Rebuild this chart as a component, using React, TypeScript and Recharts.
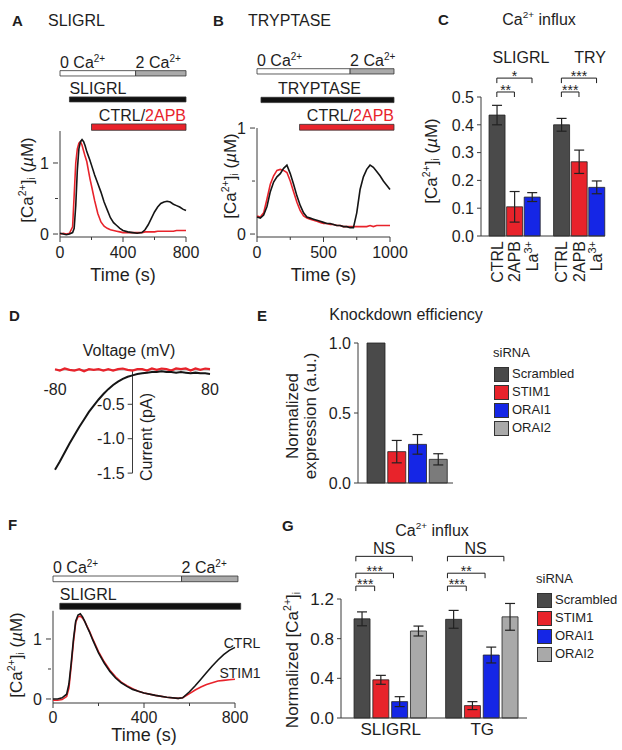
import React from "react";
import {
  LineChart,
  Line,
  BarChart,
  Bar,
  Cell,
  XAxis,
  YAxis,
  ReferenceArea,
  ReferenceLine,
  ReferenceDot,
  ErrorBar,
} from "recharts";

const FONT = '"Liberation Sans", Arial, Helvetica, sans-serif';
const INK = "#1e1e1e";
const AXIS = "#3a3a3a";
const RED = "#e8232b";
const BLUE = "#1526e6";
const DARK = "#4a4a4a";

// ---- A: SLIGRL, [Ca2+]i traces (s, uM)
const timeA = [0, 20, 40, 60, 80, 90, 100, 110, 120, 130, 140, 150, 160, 170, 180, 190, 200, 220, 240, 260, 280, 300, 320, 340, 360, 380, 400, 430, 460, 490, 520, 540, 560, 580, 600, 620, 640, 660, 680, 700, 720, 740, 760, 780, 800];
const ctrlA = [0.01, 0, -0.01, 0, 0.02, 0.08, 0.4, 0.9, 1.2, 1.3, 1.33, 1.3, 1.24, 1.16, 1.1, 1.04, 0.97, 0.83, 0.71, 0.59, 0.45, 0.34, 0.23, 0.16, 0.12, 0.08, 0.05, 0.03, 0.02, 0.01, 0.02, 0.06, 0.13, 0.22, 0.31, 0.38, 0.43, 0.45, 0.46, 0.45, 0.42, 0.4, 0.38, 0.35, 0.33];
const apbA = [0, 0.01, 0, 0.01, 0.1, 0.55, 1.0, 1.2, 1.28, 1.3, 1.25, 1.17, 1.09, 1.02, 0.9, 0.78, 0.68, 0.47, 0.29, 0.17, 0.11, 0.08, 0.06, 0.05, 0.04, 0.03, 0.02, 0.02, 0.02, 0.02, 0.02, 0.03, 0.03, 0.03, 0.03, 0.04, 0.04, 0.04, 0.04, 0.04, 0.04, 0.05, 0.05, 0.05, 0.05];
const bathA = [0, 480, 800];
const agonistA = [60, 800];
const blockerA = [200, 800];

// ---- B: TRYPTASE traces
const timeB = [0, 25, 50, 75, 100, 125, 150, 175, 200, 225, 250, 275, 300, 325, 350, 375, 400, 425, 450, 475, 500, 525, 550, 575, 600, 625, 650, 675, 700, 725, 750, 775, 800, 825, 850, 875, 900, 925, 950, 975, 1000];
const ctrlB = [0.16, 0.15, 0.18, 0.26, 0.4, 0.49, 0.54, 0.57, 0.62, 0.65, 0.57, 0.47, 0.36, 0.27, 0.2, 0.16, 0.15, 0.14, 0.13, 0.12, 0.11, 0.1, 0.1, 0.09, 0.08, 0.08, 0.07, 0.07, 0.06, 0.06, 0.2, 0.42, 0.54, 0.61, 0.65, 0.63, 0.59, 0.55, 0.5, 0.46, 0.42];
const apbB = [0.17, 0.16, 0.2, 0.33, 0.47, 0.55, 0.6, 0.61, 0.6, 0.58, 0.5, 0.4, 0.3, 0.22, 0.17, 0.15, 0.14, 0.13, 0.12, 0.11, 0.1, 0.1, 0.09, 0.09, 0.08, 0.08, 0.07, 0.07, 0.07, 0.07, 0.07, 0.07, 0.07, 0.07, 0.08, 0.07, 0.08, 0.08, 0.08, 0.08, 0.08];
const bathB = [0, 700, 1030];
const agonistB = [30, 1030];
const blockerB = [320, 1030];

// ---- C: Ca2+ influx
const influxGroups = ["SLIGRL", "TRY"];
const influxConds = ["CTRL", "2APB", "La3+"];
const influxColors = [DARK, RED, BLUE];
const influxMean = [
  [0.435, 0.105, 0.14],
  [0.4, 0.267, 0.175],
];
const influxErr = [
  [0.035, 0.055, 0.016],
  [0.023, 0.042, 0.023],
];
const influxSig = [
  { group: 0, to: 2, label: "*" },
  { group: 0, to: 1, label: "**" },
  { group: 1, to: 2, label: "***" },
  { group: 1, to: 1, label: "***" },
];

// ---- D: I-V
const voltD = [-80, -75, -70, -65, -60, -55, -50, -45, -40, -35, -30, -25, -20, -15, -10, -5, 0, 5, 10, 15, 20, 25, 30, 35, 40, 45, 50, 55, 60, 65, 70, 75, 80];
const currCtrlD = [-1.45, -1.33, -1.2, -1.07, -0.95, -0.83, -0.72, -0.61, -0.52, -0.43, -0.35, -0.28, -0.22, -0.17, -0.13, -0.1, -0.08, -0.06, -0.05, -0.04, -0.03, -0.03, -0.02, -0.03, -0.03, -0.04, -0.03, -0.04, -0.05, -0.04, -0.05, -0.05, -0.06];
const currRedD = [0.01, -0.01, 0.02, 0, -0.01, 0.01, -0.02, 0.01, 0, 0.01, -0.01, 0.01, -0.01, 0.01, 0.02, 0, -0.01, 0.01, 0.01, -0.01, 0.02, 0, 0.02, 0.01, -0.01, 0.02, 0.01, 0.02, -0.01, 0.02, 0, 0.02, 0.01];

// ---- E: knockdown efficiency
const siRNA = ["Scrambled", "STIM1", "ORAI1", "ORAI2"];
const siColors = [DARK, RED, BLUE, "#a9a9a9"];
const knockColors = [DARK, RED, BLUE, "#7b7b7b"];
const knockMean = [1.0, 0.224, 0.276, 0.169];
const knockErr = [0, 0.08, 0.07, 0.04];

// ---- F: SLIGRL, CTRL vs STIM1 siRNA
const timeF = [0, 20, 40, 60, 70, 80, 90, 100, 110, 120, 130, 140, 150, 160, 175, 200, 225, 250, 275, 300, 325, 350, 375, 400, 450, 500, 550, 570, 600, 625, 650, 675, 700, 725, 750, 775, 800];
const ctrlF = [0, 0, 0.02, 0.08, 0.25, 0.6, 1.0, 1.3, 1.4, 1.42, 1.37, 1.29, 1.2, 1.12, 0.98, 0.77, 0.6, 0.46, 0.35, 0.27, 0.21, 0.16, 0.13, 0.1, 0.06, 0.03, 0.01, 0.02, 0.12, 0.22, 0.33, 0.44, 0.55, 0.65, 0.74, 0.81, 0.86];
const stimF = [-0.02, -0.02, -0.01, 0.04, 0.18, 0.55, 0.95, 1.28, 1.37, 1.38, 1.35, 1.29, 1.21, 1.13, 1.0, 0.79, 0.62, 0.48, 0.37, 0.28, 0.22, 0.17, 0.13, 0.1, 0.06, 0.03, 0.01, 0.02, 0.09, 0.15, 0.2, 0.24, 0.27, 0.3, 0.31, 0.32, 0.33];
const bathF = [0, 565, 813];
const agonistF = [30, 825];

// ---- G: normalized influx
const gGroups = ["SLIGRL", "TG"];
const gMean = [
  [1.0, 0.385, 0.165, 0.877],
  [0.995, 0.125, 0.635, 1.02],
];
const gErr = [
  [0.07, 0.045, 0.05, 0.05],
  [0.09, 0.04, 0.08, 0.135],
];
const gSig = [
  { group: 0, to: 3, label: "NS" },
  { group: 0, to: 2, label: "***" },
  { group: 0, to: 1, label: "***" },
  { group: 1, to: 3, label: "NS" },
  { group: 1, to: 2, label: "**" },
  { group: 1, to: 1, label: "***" },
];

const rowsA = timeA.map((t, i) => ({ t, ctrl: ctrlA[i], apb: apbA[i] }));
const rowsB = timeB.map((t, i) => ({ t, ctrl: ctrlB[i], apb: apbB[i] }));
const rowsD = voltD.map((v, i) => ({ v, ctrl: currCtrlD[i], red: currRedD[i] }));
const rowsF = timeF.map((t, i) => ({ t, ctrl: ctrlF[i], stim: stimF[i] }));

const posC = (g: number, i: number) => g * 3.67 + i;
const rowsC = influxGroups.flatMap((g, gi) =>
  influxConds.map((c, ci) => ({ pos: posC(gi, ci), cond: c, mean: influxMean[gi][ci], err: influxErr[gi][ci], color: influxColors[ci] }))
);
const rowsE = siRNA.map((name, i) => ({ name, mean: knockMean[i], err: knockErr[i], color: knockColors[i] }));
const posG = (g: number, i: number) => g * 4.87 + i;
const rowsG = gGroups.flatMap((g, gi) =>
  siRNA.map((s, si) => ({ pos: posG(gi, si), name: s, mean: gMean[gi][si], err: gErr[gi][si], color: siColors[si] }))
);

function Sup({ children }: any) {
  return <span style={{ fontSize: "0.62em", verticalAlign: "0.62em" }}>{children}</span>;
}
function Sub({ children }: any) {
  return <span style={{ fontSize: "0.62em", verticalAlign: "-0.25em" }}>{children}</span>;
}

function Txt({ x, y, size = 16, anchor = "start", weight = 400, color = INK, rotate = false, children }: any) {
  const tx = anchor === "start" ? "0" : anchor === "middle" ? "-50%" : "-100%";
  return (
    <div
      style={{
        position: "absolute",
        left: x,
        top: y,
        fontSize: size,
        fontWeight: weight,
        color,
        whiteSpace: "nowrap",
        lineHeight: 1,
        transform: rotate ? "translate(-50%,-50%) rotate(-90deg)" : `translate(${tx},-50%)`,
      }}
    >
      {children}
    </div>
  );
}

const CaLabel = () => (
  <>
    [Ca<Sup>2+</Sup>]<Sub>i</Sub> (<i>µ</i>M)
  </>
);

const xTick = (shown: number[] | null, fmt = (v: number) => String(v), size = 5, margin = 4, fs = 16) => (p: any) => {
  const v = p.payload.value;
  const ay = p.y - size - margin;
  const major = !shown || shown.includes(v);
  return (
    <g>
      <line x1={p.x} x2={p.x} y1={ay} y2={ay + (major ? size : 3)} stroke={AXIS} />
      {major && (
        <text x={p.x} y={ay + size + margin} dy="0.72em" textAnchor="middle" fontSize={fs} fill={INK}>
          {fmt(v)}
        </text>
      )}
    </g>
  );
};

const yTick = (shown: number[] | null, fmt = (v: number) => String(v), size = 5, margin = 4, fs = 16) => (p: any) => {
  const v = p.payload.value;
  const ax = p.x + size + margin;
  const major = !shown || shown.includes(v);
  return (
    <g>
      <line x1={ax - (major ? size : 3)} x2={ax} y1={p.y} y2={p.y} stroke={AXIS} />
      {major && (
        <text x={ax - size - margin} y={p.y} dy="0.36em" textAnchor="end" fontSize={fs} fill={INK}>
          {fmt(v)}
        </text>
      )}
    </g>
  );
};

function ProtoLabel(props: any) {
  const { viewBox, text, anchor = "start", dx = 0 } = props;
  if (!viewBox) return null;
  const { x, y, width } = viewBox;
  const px = anchor === "start" ? x : anchor === "end" ? x + width : x + width / 2;
  return (
    <text x={px + dx} y={y - 3} textAnchor={anchor} fontSize={16} fill={INK}>
      {text}
    </text>
  );
}

const caText = (n: string) => (
  <>
    {n} Ca
    <tspan dy={-6} fontSize={10}>
      2+
    </tspan>
  </>
);
const ctrlText = (
  <>
    CTRL/<tspan fill={RED}>2APB</tspan>
  </>
);

function protoBar(key: string, x1: number, x2: number, y1: number, y2: number, fill: string, label?: any) {
  return (
    <ReferenceArea
      key={key}
      x1={x1}
      x2={x2}
      y1={y1}
      y2={y2}
      fill={fill}
      fillOpacity={1}
      stroke="#333"
      strokeWidth={0.8}
      ifOverflow="visible"
      label={label}
    />
  );
}

function brackets(list: any[], pos: (g: number, i: number) => number, levels: number[], drop: number, shift: number, fs: number) {
  return list.flatMap((b, k) => {
    const x1 = pos(b.group, 0) + shift;
    const x2 = pos(b.group, b.to) + shift;
    const y = levels[b.to - 1];
    const star = b.label.startsWith("*");
    return [
      <ReferenceLine
        key={`h${k}`}
        segment={[{ x: x1, y }, { x: x2, y }]}
        stroke={INK}
        ifOverflow="visible"
        label={{ value: b.label, position: "top", offset: star ? -3 : 2, fontSize: star ? fs - 2 : fs, fill: INK }}
      />,
      <ReferenceLine key={`l${k}`} segment={[{ x: x1, y }, { x: x1, y: y - drop }]} stroke={INK} ifOverflow="visible" />,
      <ReferenceLine key={`r${k}`} segment={[{ x: x2, y }, { x: x2, y: y - drop }]} stroke={INK} ifOverflow="visible" />,
    ];
  });
}

const rotTick = (p: any) => {
  const c = rowsC[p.index]?.cond ?? "";
  const sup = c.endsWith("3+");
  return (
    <text transform={`translate(${p.x},${p.y}) rotate(-90)`} textAnchor="end" dy="0.36em" fontSize={16} fill={INK}>
      {sup ? (
        <>
          La
          <tspan dy={-6} fontSize={11}>
            3+
          </tspan>
        </>
      ) : (
        c
      )}
    </text>
  );
};

function Legend({ x, y }: any) {
  return (
    <div style={{ position: "absolute", left: x, top: y - 30, fontSize: 13, lineHeight: "18px" }}>
      <div style={{ fontSize: 13, marginBottom: 3, marginLeft: -1 }}>siRNA</div>
      {siRNA.map((s, i) => (
        <div key={s} style={{ display: "flex", alignItems: "center", height: 18 }}>
          <span style={{ width: 13, height: 13, background: siColors[i], border: "1px solid #333", marginRight: 3 }} />
          {s}
        </div>
      ))}
    </div>
  );
}

const line = { dot: false, isAnimationActive: false, type: "linear" as const, strokeWidth: 1.6 };

export default function App() {
  return (
    <div style={{ position: "relative", width: 622, height: 750, fontFamily: FONT, color: INK, background: "#fff", overflow: "hidden" }}>
      <style>{"body{margin:0}"}</style>

      {/* A */}
      <div style={{ position: "absolute", left: 0, top: 0 }}>
        <LineChart width={200} height={290} data={rowsA} margin={{ top: 60, right: 14, left: 0, bottom: 0 }}>
          <XAxis type="number" dataKey="t" domain={[0, 800]} ticks={[0, 200, 400, 600, 800]} height={53} tickLine={false} tickSize={5} tickMargin={4} tick={xTick([0, 400, 800])} stroke={AXIS} label={{ value: "Time (s)", position: "insideBottom", offset: 9, fontSize: 18, fill: INK }} />
          <YAxis domain={[-0.042, 2.45]} ticks={[0, 0.5, 1]} width={60} axisLine={false} tickLine={false} tickSize={5} tickMargin={6} tick={yTick([0, 1])} />
          <ReferenceLine segment={[{ x: 0, y: -0.042 }, { x: 0, y: 1.45 }]} stroke={AXIS} ifOverflow="visible" />
          {protoBar("a0", bathA[0], bathA[1], 2.225, 2.3, "#fff", <ProtoLabel text={caText("0")} />)}
          {protoBar("a1", bathA[1], bathA[2], 2.225, 2.3, "#aaa", <ProtoLabel text={caText("2")} />)}
          {protoBar("a2", agonistA[0], agonistA[1], 1.86, 1.93, "#111", <ProtoLabel text="SLIGRL" />)}
          {protoBar("a3", blockerA[0], blockerA[1], 1.46, 1.55, RED, <ProtoLabel text={ctrlText} anchor="end" />)}
          <Line dataKey="apb" stroke={RED} {...line} />
          <Line dataKey="ctrl" stroke="#151515" {...line} />
        </LineChart>
      </div>

      {/* B */}
      <div style={{ position: "absolute", left: 197, top: 0 }}>
        <LineChart width={216} height={290} data={rowsB} margin={{ top: 60, right: 23, left: 0, bottom: 0 }}>
          <XAxis type="number" dataKey="t" domain={[0, 1000]} ticks={[0, 250, 500, 750, 1000]} height={53} tickLine={false} tickSize={5} tickMargin={4} tick={xTick([0, 500, 1000])} stroke={AXIS} label={{ value: "Time (s)", position: "insideBottom", offset: 9, fontSize: 18, fill: INK }} />
          <YAxis domain={[-0.028, 1.642]} ticks={[0, 0.5, 1]} width={60} axisLine={false} tickLine={false} tickSize={5} tickMargin={6} tick={yTick([0, 1])} />
          <ReferenceLine segment={[{ x: 0, y: -0.028 }, { x: 0, y: 1 }]} stroke={AXIS} ifOverflow="visible" />
          {protoBar("b0", bathB[0], bathB[1], 1.51, 1.56, "#fff", <ProtoLabel text={caText("0")} />)}
          {protoBar("b1", bathB[1], bathB[2], 1.51, 1.56, "#aaa", <ProtoLabel text={caText("2")} />)}
          {protoBar("b2", agonistB[0], agonistB[1], 1.24, 1.29, "#111", <ProtoLabel text="TRYPTASE" anchor="middle" dx={-8} />)}
          {protoBar("b3", blockerB[0], blockerB[1], 0.98, 1.035, RED, <ProtoLabel text={ctrlText} anchor="end" />)}
          <Line dataKey="apb" stroke={RED} {...line} />
          <Line dataKey="ctrl" stroke="#151515" {...line} />
        </LineChart>
      </div>

      {/* C */}
      <div style={{ position: "absolute", left: 410, top: 0 }}>
        <BarChart width={212} height={300} data={rowsC} margin={{ top: 97, right: 17, left: 0, bottom: 0 }}>
          <XAxis type="number" dataKey="pos" domain={[-0.9, 6.15]} ticks={rowsC.map((r) => r.pos)} interval={0} height={64} tickLine={false} tickSize={0} tickMargin={5} tick={rotTick} stroke={AXIS} />
          <YAxis domain={[0, 0.5]} ticks={[0, 0.1, 0.2, 0.3, 0.4, 0.5]} interval={0} width={71} tickLine={false} tickSize={4} tickMargin={3} tick={yTick(null, (v) => v.toFixed(1), 4, 3)} stroke={AXIS} />
          {brackets(influxSig, posC, [0.518, 0.568], 0.018, 0, 16)}
          <Bar dataKey="mean" barSize={16} stroke="#222" strokeWidth={0.8} isAnimationActive={false}>
            {rowsC.map((r, i) => (
              <Cell key={i} fill={r.color} />
            ))}
            <ErrorBar dataKey="err" width={5} stroke="#222" strokeWidth={1.2} direction="y" />
          </Bar>
        </BarChart>
      </div>

      {/* D */}
      <div style={{ position: "absolute", left: 0, top: 320 }}>
        <LineChart width={230} height={180} data={rowsD} margin={{ top: 43, right: 20, left: 55, bottom: 20 }}>
          <XAxis type="number" dataKey="v" domain={[-80, 80]} hide />
          <YAxis domain={[-1.6, 0.1]} hide />
          <ReferenceLine y={0} stroke="#888" />
          <ReferenceLine segment={[{ x: 0, y: 0 }, { x: 0, y: -1.5 }]} stroke={AXIS} ifOverflow="visible" />
          {[-0.5, -1, -1.5].map((t) => (
            <ReferenceLine key={t} segment={[{ x: -5, y: t }, { x: 0, y: t }]} stroke={AXIS} ifOverflow="visible" label={{ value: t.toFixed(1), position: "left", offset: 3, fontSize: 16, fill: INK }} />
          ))}
          {[-80, 80].map((v) => (
            <ReferenceDot key={v} x={v} y={0} r={0} fill="none" stroke="none" ifOverflow="visible" label={{ value: String(v), position: "bottom", offset: 14, fontSize: 16, fill: INK }} />
          ))}
          <Line dataKey="red" stroke={RED} {...line} strokeWidth={2.2} />
          <Line dataKey="ctrl" stroke="#151515" {...line} strokeWidth={2} />
        </LineChart>
      </div>

      {/* E */}
      <div style={{ position: "absolute", left: 260, top: 320 }}>
        <BarChart width={200} height={180} data={rowsE} margin={{ top: 23, right: 7, left: 0, bottom: 0 }}>
          <XAxis dataKey="name" height={17} tick={false} tickLine={false} padding={{ left: 8, right: 4 }} stroke={AXIS} />
          <YAxis domain={[0, 1]} ticks={[0, 0.5, 1]} width={98} tickLine={false} tickSize={4} tickMargin={3} tick={yTick(null, (v) => v.toFixed(1), 4, 3)} stroke={AXIS} />
          <Bar dataKey="mean" barSize={18} stroke="#222" strokeWidth={0.8} isAnimationActive={false}>
            {rowsE.map((r, i) => (
              <Cell key={i} fill={r.color} />
            ))}
            <ErrorBar dataKey="err" width={5} stroke="#222" strokeWidth={1.2} direction="y" />
          </Bar>
        </BarChart>
      </div>

      {/* F */}
      <div style={{ position: "absolute", left: 0, top: 515 }}>
        <LineChart width={260} height={235} data={rowsF} margin={{ top: 45, right: 25, left: 0, bottom: 0 }}>
          <XAxis type="number" dataKey="t" domain={[0, 800]} ticks={[0, 200, 400, 600, 800]} height={47} tickLine={false} tickSize={5} tickMargin={3} tick={xTick([0, 400, 800], String, 5, 3)} stroke={AXIS} label={{ value: "Time (s)", position: "insideBottom", offset: 9, fontSize: 18, fill: INK }} />
          <YAxis domain={[-0.067, 2.317]} ticks={[0, 0.5, 1]} width={53} axisLine={false} tickLine={false} tickSize={5} tickMargin={6} tick={yTick([0, 1])} />
          <ReferenceLine segment={[{ x: 0, y: -0.067 }, { x: 0, y: 1.47 }]} stroke={AXIS} ifOverflow="visible" />
          {protoBar("f0", bathF[0], bathF[1], 1.955, 2.05, "#fff", <ProtoLabel text={caText("0")} />)}
          {protoBar("f1", bathF[1], bathF[2], 1.955, 2.05, "#aaa", <ProtoLabel text={caText("2")} />)}
          {protoBar("f2", agonistF[0], agonistF[1], 1.495, 1.595, "#111", <ProtoLabel text="SLIGRL" />)}
          <Line dataKey="stim" stroke={RED} {...line} />
          <Line dataKey="ctrl" stroke="#151515" {...line} />
        </LineChart>
      </div>

      {/* G */}
      <div style={{ position: "absolute", left: 260, top: 515 }}>
        <BarChart width={280} height={235} data={rowsG} margin={{ top: 84, right: 13, left: 0, bottom: 0 }}>
          <XAxis type="number" dataKey="pos" domain={[-1.14, 8.75]} ticks={gGroups.map((_, gi) => posG(gi, 1.5))} interval={0} tickFormatter={(_, i) => gGroups[i]} height={32} tickLine={false} tickSize={0} tickMargin={5} tick={{ fontSize: 17, fill: INK }} stroke={AXIS} />
          <YAxis domain={[0, 1.2]} ticks={[0, 0.4, 0.8, 1.2]} interval={0} width={81} tickLine={false} tickSize={4} tickMargin={3} tick={yTick(null, (v) => v.toFixed(1), 4, 3, 17)} stroke={AXIS} />
          {brackets(gSig, posG, [1.33, 1.46, 1.63], 0.05, -0.35, 16)}
          <Bar dataKey="mean" barSize={16} stroke="#222" strokeWidth={0.8} isAnimationActive={false}>
            {rowsG.map((r, i) => (
              <Cell key={i} fill={r.color} />
            ))}
            <ErrorBar dataKey="err" width={5} stroke="#222" strokeWidth={1.2} direction="y" />
          </Bar>
        </BarChart>
      </div>

      {/* text */}
      <Txt x={12} y={20} size={15} weight={700}>A</Txt>
      <Txt x={48} y={21}>SLIGRL</Txt>
      <Txt x={27} y={180} size={17} rotate><CaLabel /></Txt>
      <Txt x={213} y={20} size={15} weight={700}>B</Txt>
      <Txt x={248} y={21}>TRYPTASE</Txt>
      <Txt x={230} y={176} size={17} rotate><CaLabel /></Txt>
      <Txt x={438} y={19} size={15} weight={700}>C</Txt>
      <Txt x={539} y={19} anchor="middle">Ca<Sup>2+</Sup> influx</Txt>
      <Txt x={521} y={58} anchor="middle">{influxGroups[0]}</Txt>
      <Txt x={590} y={58} anchor="middle">{influxGroups[1]}</Txt>
      <Txt x={431} y={161} size={17} rotate><CaLabel /></Txt>

      <Txt x={9} y={315} size={15} weight={700}>D</Txt>
      <Txt x={129} y={351} anchor="middle">Voltage (mV)</Txt>
      <Txt x={147} y={437} size={16} rotate>Current (pA)</Txt>

      <Txt x={257} y={315} size={15} weight={700}>E</Txt>
      <Txt x={406} y={315} anchor="middle">Knockdown efficiency</Txt>
      <Txt x={302} y={416} size={17} rotate>
        <div style={{ textAlign: "center", lineHeight: "18px" }}>
          Normalized
          <br />
          expression (a.u.)
        </div>
      </Txt>
      <Legend x={494} y={374} />

      <Txt x={8} y={524} size={15} weight={700}>F</Txt>
      <Txt x={16} y={655} size={17} rotate><CaLabel /></Txt>
      <Txt x={242} y={643} size={14} anchor="middle">CTRL</Txt>
      <Txt x={240} y={673} size={14} anchor="middle">STIM1</Txt>

      <Txt x={282} y={525} size={15} weight={700}>G</Txt>
      <Txt x={432} y={530} anchor="middle">Ca<Sup>2+</Sup> influx</Txt>
      <Txt x={292} y={660} size={17} rotate>
        Normalized [Ca<Sup>2+</Sup>]<Sub>i</Sub>
      </Txt>
      <Legend x={537} y={600} />
    </div>
  );
}
